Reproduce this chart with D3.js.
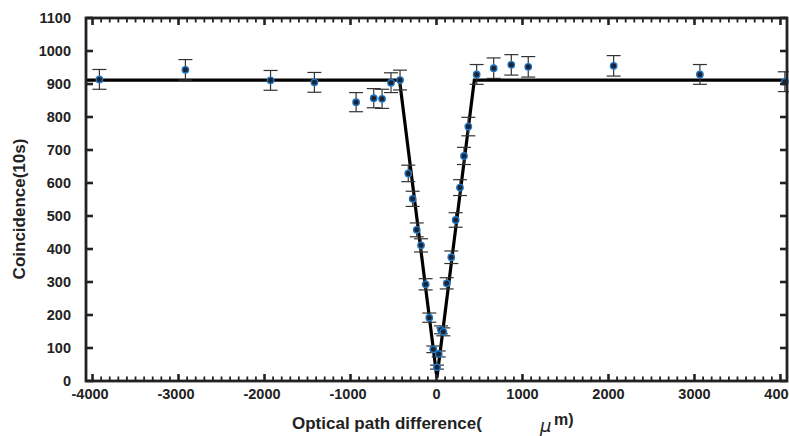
<!DOCTYPE html>
<html><head><meta charset="utf-8">
<script src="https://cdn.jsdelivr.net/npm/d3@7"></script>
<style>body{margin:0;background:#fff}svg{display:block}text{font-family:"Liberation Sans",Arial,sans-serif;font-weight:bold;fill:#222}</style>
</head><body><svg id="c" width="789" height="436"></svg>
<script>
const xValues = [-3920,-2920,-1930,-1420,-935,-730,-633,-529,-424,-328,-277,-230,-180,-126,-84,-37,6,26,52,79,119,172,223,273,320,370,467,665,870,1067,2060,3063,4051];
const yValues = [914,943,911,905,845,857,855,904,912,629,552,458,411,293,192,96,42,82,155,149,296,375,488,586,682,771,929,948,958,952,955,929,907];
const yErrors = [30,31,30,30,29,29,29,30,30,25,23,21,20,17,14,10,6,9,12,12,17,19,22,24,26,28,30,31,31,31,31,30,30];
const fitX = [-4076,-430,5,440,4076];
const fitY = [912,912,10,912,912];
const xTicks = [-4000,-3000,-2000,-1000,0,1000,2000,3000,4000];
const yTicks = [0,100,200,300,400,500,600,700,800,900,1000,1100];
const xTitle = "Optical path difference(";
const yTitle = "Coincidence(10s)";

const svg = d3.select("#c");
const L=86,R=787,T=18,B=381;
const x = d3.scaleLinear().domain([-4076,4076]).range([L,R]);
const y = d3.scaleLinear().domain([0,1100]).range([B,T]);

// fit line
svg.append("path").datum(fitX.map((v,i)=>[v,fitY[i]]))
  .attr("d", d3.line().x(d=>x(d[0])).y(d=>y(d[1])))
  .attr("fill","none").attr("stroke","#000").attr("stroke-width",3.2).attr("stroke-linejoin","miter");

// error bars
const eg = svg.append("g").attr("stroke","#333").attr("stroke-width",1.2);
xValues.forEach((xv,i)=>{
  const cx=x(xv), y1=y(yValues[i]+yErrors[i]), y2=y(yValues[i]-yErrors[i]);
  eg.append("line").attr("x1",cx).attr("x2",cx).attr("y1",y1).attr("y2",y2);
  eg.append("line").attr("x1",cx-7).attr("x2",cx+7).attr("y1",y1).attr("y2",y1);
  eg.append("line").attr("x1",cx-7).attr("x2",cx+7).attr("y1",y2).attr("y2",y2);
});
// points
svg.append("g").selectAll("circle").data(xValues).join("circle")
  .attr("cx",d=>x(d)).attr("cy",(d,i)=>y(yValues[i])).attr("r",3.2)
  .attr("fill","#1c2433").attr("stroke","#1f77c4").attr("stroke-width",1.4);

// axes frame
const ax = svg.append("g");
const minorX = d3.range(-4000,4001,100);
minorX.forEach(v=>{
  const major = v%1000===0;
  const len = major?7:4.5, w = major?2.6:1.8;
  ax.append("line").attr("x1",x(v)).attr("x2",x(v)).attr("y1",B).attr("y2",B-len).attr("stroke","#222").attr("stroke-width",w);
  ax.append("line").attr("x1",x(v)).attr("x2",x(v)).attr("y1",T).attr("y2",T+len).attr("stroke","#222").attr("stroke-width",w);
});
yTicks.forEach(v=>{
  ax.append("line").attr("x1",L).attr("x2",L+7).attr("y1",y(v)).attr("y2",y(v)).attr("stroke","#222").attr("stroke-width",2.6);
  ax.append("line").attr("x1",R).attr("x2",R-7).attr("y1",y(v)).attr("y2",y(v)).attr("stroke","#222").attr("stroke-width",2.6);
});
ax.append("rect").attr("x",L).attr("y",T).attr("width",R-L).attr("height",B-T)
  .attr("fill","none").attr("stroke","#222").attr("stroke-width",2.8);

// tick labels
svg.append("g").selectAll("text").data(xTicks).join("text")
  .attr("x",d=>x(d)-(d<0?2.5:0)).attr("y",398.5).attr("text-anchor","middle").attr("font-size",14.5)
  .text(d=>d);
svg.append("g").selectAll("text").data(yTicks).join("text")
  .attr("x",71).attr("y",d=>y(d)+5).attr("text-anchor","end").attr("font-size",14.5)
  .text(d=>d);
// titles
svg.append("text").attr("transform","translate(25,209) rotate(-90)").attr("text-anchor","middle")
  .attr("font-size",17).text(yTitle);
svg.append("text").attr("x",292).attr("y",429).attr("font-size",17).text(xTitle);
svg.append("text").attr("x",540).attr("y",432).attr("font-size",18).attr("font-style","italic")
  .style("font-weight","normal").style("font-family","'DejaVu Sans',sans-serif").text("μ");
svg.append("text").attr("x",554).attr("y",425).attr("font-size",16).text("m)");
</script></body></html>
